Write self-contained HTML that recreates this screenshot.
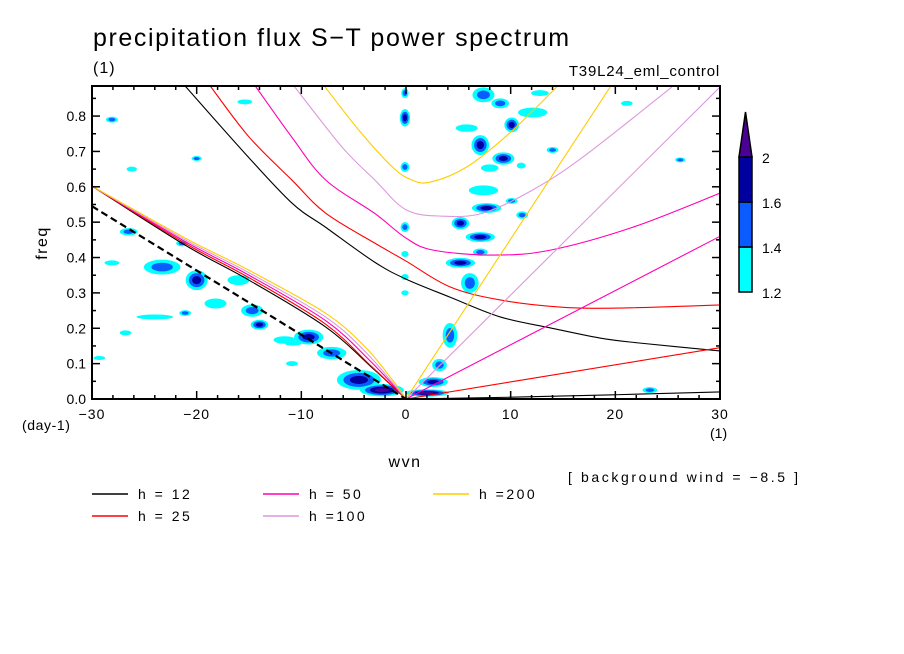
<!DOCTYPE html>
<html><head><meta charset="utf-8">
<style>
body{margin:0;background:#fff;}
svg{display:block;font-family:"Liberation Sans",sans-serif;}
</style></head>
<body>
<svg id="chart" width="904" height="654" viewBox="0 0 904 654" xmlns="http://www.w3.org/2000/svg">
<rect width="904" height="654" fill="#fff"/>
<text x="93" y="46" font-size="25" letter-spacing="1.6">precipitation flux S−T power spectrum</text>
<text x="93" y="73" font-size="16" letter-spacing="1">(1)</text>
<text x="720" y="76" font-size="15" letter-spacing="0.8" text-anchor="end">T39L24_eml_control</text>
<defs><clipPath id="pc"><rect x="92" y="86" width="628" height="313"/></clipPath></defs>
<g id="blobs" clip-path="url(#pc)"></g>
<g id="curves" clip-path="url(#pc)"></g>
<g id="axes"></g>
<rect x="92" y="86" width="628" height="313" fill="none" stroke="#000" stroke-width="2"/>
<text x="405" y="467" font-size="16" letter-spacing="1.5" text-anchor="middle">wvn</text>
<text x="0" y="0" font-size="16" letter-spacing="1.5" text-anchor="middle" transform="translate(47,243) rotate(-90)">freq</text>
<text x="22" y="430" font-size="14" letter-spacing="0.6">(day-1)</text>
<text x="710" y="438" font-size="14">(1)</text>
<text x="568" y="482" font-size="14" letter-spacing="2.6">[ background wind = −8.5 ]</text>
<g id="legend"></g>
<g id="colorbar"></g>
</svg>
<script>
// ---- data ----
const hValues = [12, 25, 50, 100, 200];
const hColors = ["#000000", "#ff0000", "#ff00b4", "#dd99dd", "#ffcc00"];
// inertia-gravity curves [wvn, freq]
const igBlack = [[-21.1,0.885],[-15.4,0.695],[-10.9,0.554],[-7.7,0.486],[-3,0.387],[0,0.339],[4.2,0.288],[9,0.232],[13.8,0.201],[18.6,0.172],[22.4,0.158],[30,0.136]];
const igRed = [[-18.7,0.885],[-15,0.741],[-10.9,0.619],[-7.7,0.526],[-3,0.441],[0,0.39],[4.2,0.317],[9,0.28],[14.7,0.26],[20.2,0.257],[30,0.266]];
const igMagenta = [[-14.4,0.885],[-10.9,0.74],[-7.7,0.62],[-3,0.525],[0,0.455],[2.6,0.421],[8.3,0.407],[13.8,0.421],[21.7,0.486],[30,0.582]];
const igViolet = [[-10.7,0.885],[-6.1,0.712],[-3,0.62],[0,0.535],[3.5,0.517],[7.4,0.526],[12.1,0.591],[16.9,0.684],[25.4,0.882]];
const igYellow = [[-7.8,0.885],[-4.5,0.76],[-1.3,0.656],[0.5,0.62],[2.3,0.613],[5.8,0.656],[9.9,0.752],[14.4,0.882]];
// Kelvin curves
const kvBlack = [[0,0],[10,0.005],[20,0.012],[30,0.02]];
const kvRed = [[0,0],[30,0.145]];
const kvMagenta = [[0,0],[30,0.46]];
const kvViolet = [[0,0],[30,0.882]];
const kvYellow = [[0,0],[19.5,0.882]];
// Rossby curves
const erBlack = [[-30,0.602],[-21.1,0.435],[-15,0.336],[-7.7,0.204],[-3,0.082],[0,0]];
const erRed = [[-30,0.602],[-21.1,0.44],[-15,0.343],[-7.7,0.212],[-3.4,0.095],[0,0]];
const erMagenta = [[-30,0.602],[-21.1,0.445],[-15,0.35],[-7.7,0.222],[-3.5,0.11],[0,0]];
const erViolet = [[-30,0.602],[-21.1,0.45],[-15,0.357],[-7.7,0.232],[-3.7,0.128],[0,0]];
const erYellow = [[-30,0.602],[-21.1,0.455],[-15,0.364],[-7.7,0.243],[-3.9,0.147],[-1.3,0.054],[0,0]];
const windLine = [[-30,0.545],[0,0]];
// power blobs [wvn, freq, halfWidthWvn, halfHeightFreq, level]
const blobs = [
[-20,0.336,1.5,0.04,3],[-23.3,0.373,2.5,0.03,2],[-26.5,0.473,1.2,0.015,2],[-21.4,0.44,0.8,0.012,2],
[-16,0.336,1.5,0.02,1],[-18.2,0.27,1.5,0.02,1],[-24,0.232,2.5,0.01,1],[-21.1,0.243,0.8,0.012,2],
[-14.7,0.25,1.5,0.025,2],[-14,0.21,1.2,0.02,3],[-11.6,0.167,1.5,0.015,1],[-9.3,0.175,2,0.03,3],
[-7.1,0.13,2,0.025,2],[-4.5,0.054,3,0.04,3],[-2.3,0.025,3,0.025,4],[-26.8,0.187,0.8,0.01,1],
[-29.3,0.116,0.8,0.008,1],[-28.1,0.79,0.8,0.012,2],[-15.4,0.84,1,0.01,1],[-20,0.68,0.7,0.01,2],
[-26.2,0.65,0.7,0.01,1],[-10.8,0.158,1.2,0.01,1],[-10.9,0.1,0.8,0.01,1],[-28.1,0.385,1,0.01,1],
[-0.1,0.865,0.5,0.02,2],[-0.1,0.795,0.7,0.035,3],[-0.1,0.656,0.6,0.02,2],[-0.1,0.486,0.6,0.02,2],
[-0.1,0.41,0.5,0.012,1],[-0.1,0.345,0.5,0.012,1],[-0.1,0.3,0.5,0.01,1],
[7.4,0.86,1.5,0.03,2],[9,0.836,1.2,0.02,2],[12.1,0.81,2,0.02,1],[12.8,0.865,1.2,0.012,1],
[10.1,0.775,1,0.03,3],[5.8,0.766,1.5,0.015,1],[7.1,0.718,1.2,0.04,3],[9.3,0.68,1.5,0.025,3],
[8,0.653,1.2,0.015,1],[14,0.704,0.8,0.012,2],[11,0.66,0.6,0.012,1],[7.4,0.59,2,0.02,1],
[7.7,0.54,2,0.02,3],[10.1,0.56,0.8,0.012,2],[11.1,0.52,0.8,0.015,2],[5.2,0.497,1.2,0.025,3],
[7.1,0.458,2,0.02,3],[7.1,0.415,1,0.015,2],[5.2,0.385,2,0.02,3],[6.1,0.328,1.2,0.04,2],
[4.2,0.18,1,0.05,2],[3.2,0.096,1,0.025,2],[2.6,0.048,2,0.02,3],[2,0.017,3,0.015,4],
[23.3,0.025,1,0.012,2],[26.2,0.676,0.7,0.01,2],[21.1,0.836,0.8,0.01,1]
];
const xTicks = [-30,-20,-10,0,10,20,30];
const yTicks = [0,0.1,0.2,0.3,0.4,0.5,0.6,0.7,0.8];
const levelColors = ["#00ffff","#0a5cff","#0000a0","#4b0096"];
const cbLabels = ["1.2","1.4","1.6","2"];

// ---- scales ----
const X0=92,X1=720,Y0=399,Y1=86;
const sx = k => X0 + (k+30)/60*(X1-X0);
const sy = f => Y0 - f/0.885*(Y0-Y1);
const NS="http://www.w3.org/2000/svg";
function mk(tag, attrs, parent){const e=document.createElementNS(NS,tag);for(const a in attrs)e.setAttribute(a,attrs[a]);parent.appendChild(e);return e;}
const BLOB_SCALE=0.7;

// blobs
const gB=document.getElementById('blobs');
blobs.forEach(b=>{
  for(let l=1;l<=b[4];l++){
    const s=BLOB_SCALE*(1-(l-1)/(b[4]+0.4));
    const e=mk('ellipse',{cx:sx(b[0]),cy:sy(b[1]),rx:Math.max(1.5,b[2]/60*628*s),ry:Math.max(1.5,b[3]/0.885*313*s),fill:levelColors[l-1]},gB);
    
    
  }
});

// smooth path (Catmull-Rom)
function smoothPath(pts){
  const P=pts.map(q=>[sx(q[0]),sy(q[1])]);
  if(P.length<3) return 'M'+P.map(p=>p.join(',')).join(' L');
  let d='M'+P[0][0]+','+P[0][1];
  for(let i=0;i<P.length-1;i++){
    const p0=P[Math.max(0,i-1)],p1=P[i],p2=P[i+1],p3=P[Math.min(P.length-1,i+2)];
    const c1=[p1[0]+(p2[0]-p0[0])/6,p1[1]+(p2[1]-p0[1])/6];
    const c2=[p2[0]-(p3[0]-p1[0])/6,p2[1]-(p3[1]-p1[1])/6];
    d+=' C'+c1.join(',')+' '+c2.join(',')+' '+p2.join(',');
  }
  return d;
}
const gC=document.getElementById('curves');
function line(pts,color,w,name,dash){
  const p=mk('path',{d:smoothPath(pts),fill:'none',stroke:color,'stroke-width':w},gC);
  if(dash)p.setAttribute('stroke-dasharray',dash);
  
  
}
const igs=[igBlack,igRed,igMagenta,igViolet,igYellow];
const kvs=[kvBlack,kvRed,kvMagenta,kvViolet,kvYellow];
const ers=[erBlack,erRed,erMagenta,erViolet,erYellow];
for(let i=0;i<5;i++){
  line(igs[i],hColors[i],1.1,'ig-curve-h'+hValues[i]);
  line(kvs[i],hColors[i],1.1,'kelvin-curve-h'+hValues[i]);
  line(ers[i],hColors[i],1.1,'rossby-curve-h'+hValues[i]);
}
line(windLine,'#000',2.2,'background-wind-line','7 4');

// axes
const gA=document.getElementById('axes');
for(let k=-30;k<=30;k+=2){
  const major=xTicks.includes(k), len=major?8:4;
  let t=mk('line',{x1:sx(k),x2:sx(k),y1:Y0,y2:Y0-len,stroke:'#000','stroke-width':1.5},gA);
  
  t=mk('line',{x1:sx(k),x2:sx(k),y1:Y1,y2:Y1+len,stroke:'#000','stroke-width':1.5},gA);
  
}
xTicks.forEach(k=>{
  const t=mk('text',{x:sx(k),y:Y0+20,'font-size':14,'letter-spacing':1,'text-anchor':'middle'},gA);
  t.textContent=k<0?'−'+(-k):String(k);
  
});
for(let i=0;i<=17;i++){
  const f=i*0.05, major=i%2===0, len=major?8:4;
  let t=mk('line',{x1:X0,x2:X0+len,y1:sy(f),y2:sy(f),stroke:'#000','stroke-width':1.5},gA);
  
  t=mk('line',{x1:X1,x2:X1-len,y1:sy(f),y2:sy(f),stroke:'#000','stroke-width':1.5},gA);
  
}
yTicks.forEach(f=>{
  const t=mk('text',{x:X0-6,y:sy(f)+5,'font-size':14,'text-anchor':'end'},gA);
  t.textContent=f.toFixed(1);
  
});

// legend
const gL=document.getElementById('legend');
const legPos=[[92,494],[92,516],[263,494],[263,516],[433,494]];
const legText=['h = 12','h = 25','h = 50','h =100','h =200'];
for(let i=0;i<5;i++){
  const [lx,ly]=legPos[i];
  let e=mk('line',{x1:lx,x2:lx+36,y1:ly,y2:ly,stroke:hColors[i],'stroke-width':1.5},gL);
  
  e=mk('text',{x:lx+46,y:ly+5,'font-size':14,'letter-spacing':2.5},gL);
  e.textContent=legText[i];
  
}

// colorbar
const gK=document.getElementById('colorbar');
const boxTop=[247,202,157];
for(let i=0;i<3;i++){
  const r=mk('rect',{x:739,y:boxTop[i],width:13,height:45,fill:levelColors[i],stroke:'#000','stroke-width':1.5},gK);
  
}
let tri=mk('polygon',{points:'739,157 752,157 745.5,112',fill:levelColors[3],stroke:'#000','stroke-width':1.5},gK);

const cbY=[292,247,202,157];
for(let i=0;i<4;i++){
  const t=mk('text',{x:762,y:cbY[i]+6,'font-size':14},gK);
  t.textContent=cbLabels[i];
  
}
</script>
</body></html>
